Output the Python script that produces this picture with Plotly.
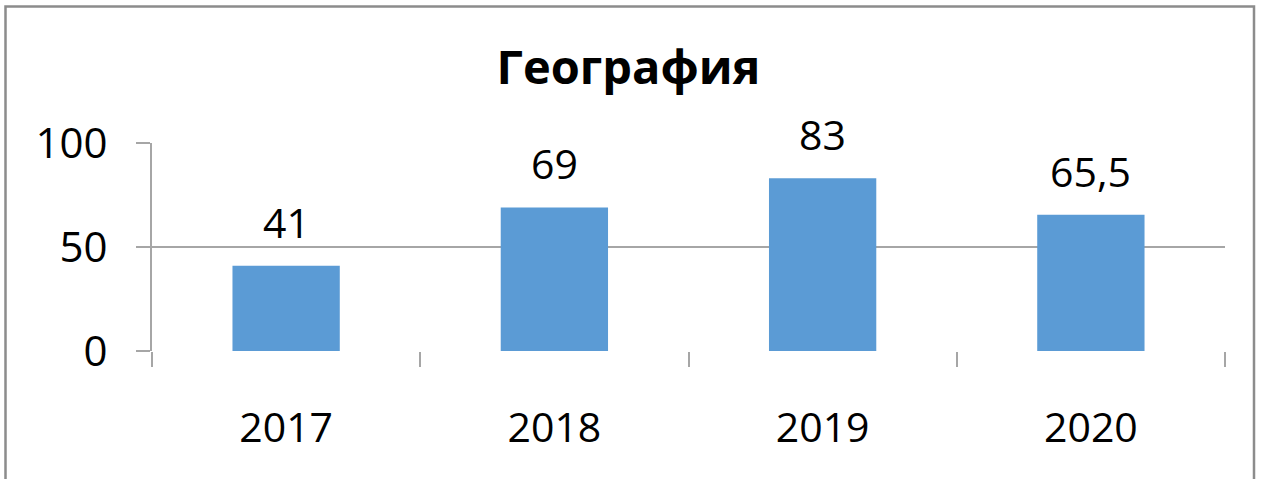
import plotly.graph_objects as go

categories = ["2017", "2018", "2019", "2020"]
values = [41, 69, 83, 65.5]
title_text = "География"
y_ticks = [0, 50, 100]

FONT = "Open Sans, sans-serif"
GRID = "#A6A6A6"

fig = go.Figure()
fig.add_trace(go.Bar(
    x=categories, y=values,
    marker=dict(color="#5B9BD5", line=dict(width=0)),
    width=0.4,
    hoverinfo="skip",
))

for i, v in enumerate(values):
    fig.add_annotation(
        x=i, y=v, xref="x", yref="y",
        text=(f"{v:g}").replace(".", ","),
        showarrow=False, yanchor="bottom", yshift=14,
        font=dict(family=FONT, size=41, color="#000000"),
    )

W, H = 1265, 479
L, R, T, B = 152, 40, 143, 128
pw = W - L - R
ph = H - T - B

def px_x(p):
    return (p - L) / pw

def px_y(p):
    return (H - B - p) / ph

fig.add_shape(
    type="rect", xref="paper", yref="paper",
    x0=px_x(5.5), x1=px_x(1254), y0=px_y(490), y1=px_y(6.5),
    line=dict(color="#8C8C8C", width=2.5), fillcolor="rgba(0,0,0,0)",
    layer="below",
)

fig.update_layout(
    width=W, height=H,
    margin=dict(l=L, r=R, t=T, b=B, pad=0, autoexpand=False),
    paper_bgcolor="white", plot_bgcolor="white",
    separators=", ",
    showlegend=False,
    title=dict(
        text=f"<b>{title_text}</b>",
        x=628.5 / W, xref="container", y=(H - 68) / H, yref="container",
        xanchor="center", yanchor="middle",
        font=dict(family=FONT, size=47, color="#000000"),
    ),
    xaxis=dict(
        type="category",
        range=[-0.5, len(categories) - 0.5],
        tickson="boundaries",
        ticks="outside", ticklen=15, tickwidth=2, tickcolor=GRID,
        showgrid=False, showline=False, zeroline=False,
        tickfont=dict(family=FONT, size=41, color="#000000"),
        tickangle=0,
        ticklabelstandoff=49,
        automargin=False,
        fixedrange=True,
    ),
    yaxis=dict(
        range=[0, 100],
        tickvals=y_ticks,
        ticks="outside", ticklen=14, tickwidth=2, tickcolor=GRID,
        showgrid=True, gridcolor=GRID, gridwidth=2,
        showline=True, linecolor=GRID, linewidth=2,
        zeroline=False,
        tickfont=dict(family=FONT, size=42, color="#000000"),
        ticklabelstandoff=20,
        automargin=False,
        fixedrange=True,
    ),
)

fig.write_html(
    "out.html",
    config={"displayModeBar": False},
    post_script="document.body.style.margin='0';document.body.style.overflow='hidden';",
)
